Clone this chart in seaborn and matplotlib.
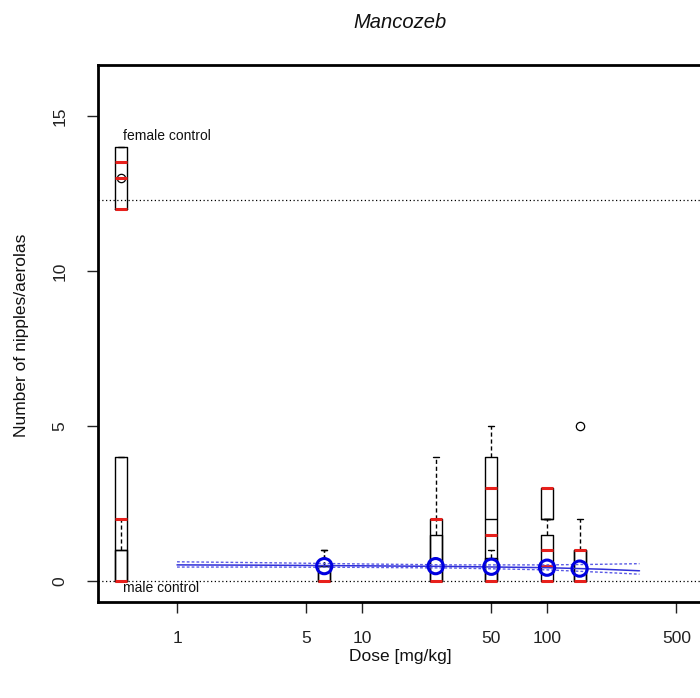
import numpy as np
import pandas as pd
import matplotlib
matplotlib.use("Agg")
import matplotlib.pyplot as plt
import seaborn as sns

# Dose groups (controls are drawn at 0.5 on the log axis)
doses = [0.5, 0.5, 6.25, 25, 50, 100, 150]
group_names = ["female control", "male control", "6.25", "25", "50", "100", "150"]

# Counts per group, two overlaid summaries per group
outer_counts = [
    [12, 12, 12, 13, 14, 14, 14],
    [0, 0, 0, 0, 1, 2, 4, 4, 4],
    [0, 0, 0, 0, 0, 1, 1],
    [0, 0, 0, 0, 0, 1, 2, 2, 4],
    [0, 0, 0, 1, 2, 3, 4, 4, 5],
    [2, 2, 2, 3, 3],
    [0, 0, 0, 0, 1, 1, 1, 2, 5],
]
inner_counts = [
    [12, 12, 12, 12, 13],
    [0, 0, 0, 1, 2],
    [0, 0, 0, 0, 0, 1, 1],
    [0, 0, 0, 0, 1, 2, 2],
    [0, 0, 0, 0, 1, 1],
    [0, 0, 0, 1, 1, 1.5, 1.5, 2],
    [0, 0, 0, 0, 1, 1, 1],
]
# Litter means (red dashes)
litter_means = [
    [12, 13, 13.5],
    [0, 2],
    [0],
    [0, 2],
    [0, 1.5, 3],
    [0, 0.5, 1, 3],
    [0, 1],
]

# Fitted dose-response curve with confidence band
fit_dose = [1, 3, 10, 30, 100, 200, 316]
fit_mean = [0.52, 0.51, 0.49, 0.47, 0.43, 0.38, 0.33]
fit_lower = [0.45, 0.45, 0.44, 0.42, 0.36, 0.28, 0.22]
fit_upper = [0.62, 0.59, 0.55, 0.52, 0.52, 0.54, 0.56]

# Fitted means at the treated doses
treated_doses = [6.25, 25, 50, 100, 150]
treated_fit = [0.48, 0.48, 0.46, 0.43, 0.40]

# Control reference levels
ref_levels = [12.3, 0.0]
ref_labels = ["female control", "male control"]
ref_label_y = [14.35, -0.23]

x_ticks = [1, 5, 10, 50, 100, 500]
y_ticks = [0, 5, 10, 15]

rows = []
for g, d, o, i in zip(group_names, doses, outer_counts, inner_counts):
    rows += [{"group": g, "dose": d, "count": v, "set": "outer"} for v in o]
    rows += [{"group": g, "dose": d, "count": v, "set": "inner"} for v in i]
df = pd.DataFrame(rows)
marks = pd.DataFrame([{"dose": d, "count": v} for d, m in zip(doses, litter_means) for v in m])

sns.set_style("ticks")
plt.rcParams["font.family"] = ["Liberation Sans", "DejaVu Sans"]

fig = plt.figure(figsize=(7.0, 6.98), dpi=100)
ax = fig.add_axes([98 / 700, 1 - 602 / 698, 604 / 700, 537 / 698])
ax.set_xscale("log")
ax.set_xlim(0.374, 688)
ax.set_ylim(-0.677, 16.645)

for lvl in ref_levels:
    ax.axhline(lvl, color="black", linestyle=(0, (1, 2)), linewidth=0.9, zorder=1)

box_style = dict(
    x="dose", y="count", hue="set", native_scale=True, orient="x",
    dodge=False, fill=False, palette={"outer": "black", "inner": "black"},
    linewidth=1.0, legend=False, ax=ax,
    whiskerprops={"linestyle": (0, (3, 2))},
    flierprops={"marker": "o", "markersize": 6, "markerfacecolor": "none",
                "markeredgecolor": "black", "markeredgewidth": 0.9},
)
# box width is about 0.065 decades on the log axis
female = df[df["group"] == "female control"]
others = df[df["group"] != "female control"]
sns.boxplot(data=others, width=0.37, **box_style)
sns.boxplot(data=female, width=0.065, **box_style)

sns.scatterplot(data=marks, x="dose", y="count", marker="_", s=80,
                color="#e8201c", linewidth=2.2, ax=ax, zorder=4)

sns.lineplot(x=fit_dose, y=fit_upper, color="#5a5ae6", linewidth=1.0,
             linestyle=(0, (2, 1.5)), ax=ax, zorder=5)
sns.lineplot(x=fit_dose, y=fit_lower, color="#5a5ae6", linewidth=1.0,
             linestyle=(0, (2, 1.5)), ax=ax, zorder=5)
sns.lineplot(x=fit_dose, y=fit_mean, color="#3030d8", linewidth=1.1, ax=ax, zorder=5)

sns.scatterplot(x=treated_doses, y=treated_fit, marker="o", s=120,
                facecolor="none", edgecolor="#0000e0", linewidth=2.2, ax=ax, zorder=6)

for lab, ly in zip(ref_labels, ref_label_y):
    ax.text(0.51, ly, lab, fontsize=10, ha="left", va="center", color="#111111")

ax.set_xlim(0.374, 688)
ax.set_ylim(-0.677, 16.645)
ax.set_xticks(x_ticks)
ax.set_xticklabels([str(t) for t in x_ticks])
ax.xaxis.set_minor_locator(matplotlib.ticker.NullLocator())
ax.set_yticks(y_ticks)
ax.set_yticklabels([str(t) for t in y_ticks], rotation=90, va="center")
ax.tick_params(axis="x", length=8, width=1, pad=13, labelsize=12.5, colors="#222222")
ax.tick_params(axis="y", length=8, width=1, pad=14, labelsize=12.5, colors="#222222")
ax.set_xlabel("")
ax.set_ylabel("")
for sp in ax.spines.values():
    sp.set_linewidth(2)
    sp.set_color("black")

fig.text(400 / 700, 1 - 22 / 698, "Mancozeb", fontsize=14.5, style="italic",
         ha="center", va="center", color="#111111")
fig.text(400 / 700, 1 - 656 / 698, "Dose [mg/kg]", fontsize=12.5,
         ha="center", va="center", color="#111111")
fig.text(22 / 700, 1 - 335 / 698, "Number of nipples/aerolas", fontsize=12.5,
         rotation=90, ha="center", va="center", color="#111111")

fig.savefig("out.png", dpi=100, facecolor="white")
